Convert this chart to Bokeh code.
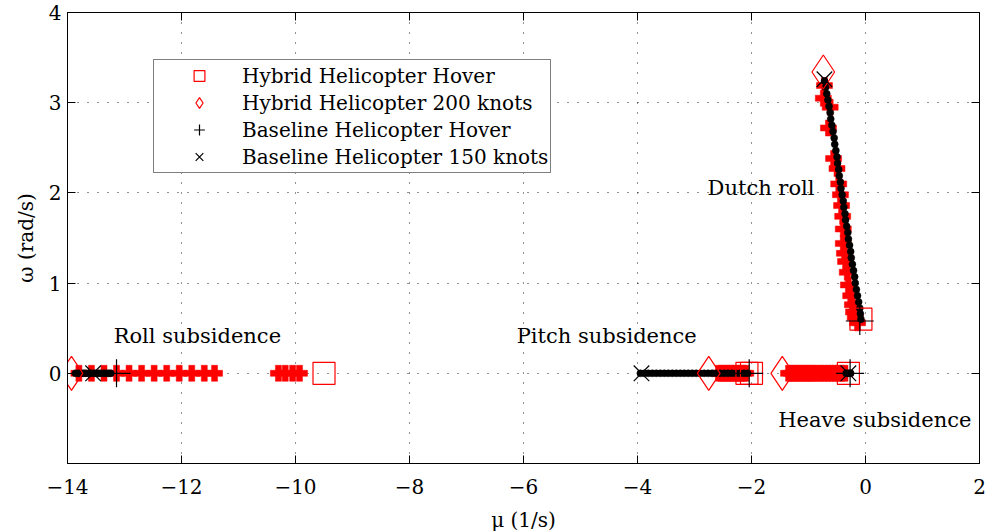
from bokeh.plotting import figure
from bokeh.models import (Legend, LinearAxis, FixedTicker, ColumnDataSource, Range1d,
                          CustomJSTickFormatter)
from bokeh.core.properties import value
from bokeh.embed import file_html
from bokeh.resources import INLINE

# ---------------- data ----------------
# Hybrid helicopter root locus (red thick pluses)
hyb_locus_x = [-13.80, -13.58, -13.36, -13.14, -12.92, -12.70, -12.48, -12.26, -12.04, -11.82, -11.60, -11.42,
               -10.30, -10.18, -10.05, -9.93,
               -2.58, -2.53, -2.48, -2.43, -2.38, -2.33, -2.28, -2.23, -2.18, -2.14, -2.10,
               -1.35, -1.30, -1.25, -1.20, -1.15, -1.10, -1.05, -1.00, -0.95, -0.90, -0.84, -0.78, -0.72,
               -0.66, -0.60, -0.54, -0.48, -0.42, -0.36,
               -0.72, -0.74, -0.62, -0.65, -0.56, -0.50, -0.47, -0.44, -0.42, -0.40, -0.39, -0.39, -0.37,
               -0.35, -0.32, -0.30, -0.26, -0.23, -0.21, -0.18, -0.14]
hyb_locus_y = [0.0] * 46 + [3.19, 3.05, 2.95, 2.72, 2.38, 2.27, 2.10, 1.98, 1.86, 1.74, 1.60, 1.44, 1.33,
                            1.24, 1.12, 0.98, 0.86, 0.76, 0.68, 0.62, 0.56]

# Baseline helicopter root locus (black dots)
base_locus_x = [-13.86, -13.81, -13.77, -13.72, -13.68, -13.63, -13.59, -13.54, -13.50, -13.45, -13.41, -13.36,
                -13.32, -13.28, -13.24,
                -3.95, -3.88, -3.81, -3.74, -3.67, -3.60, -3.53, -3.46, -3.39, -3.32, -3.25, -3.18, -3.11, -3.04,
                -2.97, -2.90, -2.83, -2.76, -2.69, -2.62, -2.55, -2.48, -2.41, -2.34, -2.27, -2.20, -2.13, -2.07,
                -0.34, -0.31, -0.28, -0.26,
                -0.72, -0.70, -0.68, -0.66, -0.64, -0.62, -0.61, -0.59, -0.57, -0.55, -0.54, -0.52, -0.50,
                -0.49, -0.47, -0.46, -0.44, -0.43, -0.41, -0.39, -0.38, -0.36, -0.35, -0.33, -0.31, -0.30,
                -0.28, -0.26, -0.25, -0.23, -0.21, -0.19, -0.18, -0.16, -0.14, -0.12, -0.10, -0.09, -0.08]
base_locus_y = [0.0] * 47 + [3.24, 3.17, 3.10, 3.03, 2.96, 2.89, 2.82, 2.75, 2.68, 2.61, 2.54, 2.47, 2.40,
                             2.33, 2.26, 2.19, 2.12, 2.05, 1.98, 1.91, 1.84, 1.77, 1.70, 1.63, 1.56, 1.49,
                             1.42, 1.35, 1.28, 1.21, 1.14, 1.07, 1.00, 0.93, 0.86, 0.79, 0.72, 0.66, 0.60]

# End points
hyb_hover_x = [-9.50, -2.08, -2.00, -0.30, -0.08]
hyb_hover_y = [0.0, 0.0, 0.0, 0.0, 0.60]
hyb_200_x = [-13.93, -2.75, -1.46, -0.74]
hyb_200_y = [0.0, 0.0, 0.0, 3.34]
base_hover_x = [-13.14, -2.04, -0.27, -0.10]
base_hover_y = [0.0, 0.0, 0.0, 0.58]
base_150_x = [-13.55, -3.93, -0.30, -0.72]
base_150_y = [0.0, 0.0, 0.0, 3.26]

series_names = ["Hybrid Helicopter Hover", "Hybrid Helicopter 200 knots",
                "Baseline Helicopter Hover", "Baseline Helicopter 150 knots"]

mode_labels = ["Roll subsidence", "Pitch subsidence", "Dutch roll", "Heave subsidence"]
mode_label_x = [-13.19, -6.12, -2.77, -1.53]
mode_label_y = [0.41, 0.41, 2.05, -0.52]

x_ticks = [-14, -12, -10, -8, -6, -4, -2, 0, 2]
y_ticks = [0, 1, 2, 3, 4]

FONT = "DejaVu Serif"
FS = "20px"

# ---------------- figure ----------------
p = figure(frame_width=912, frame_height=451, output_backend="svg", toolbar_location=None,
           x_range=Range1d(-14, 2), y_range=Range1d(-1, 4),
           min_border_left=67, min_border_top=12, min_border_right=8, min_border_bottom=0,
           x_axis_label="μ (1/s)", y_axis_label="ω (rad/s)")
p.background_fill_color = "white"
p.border_fill_color = "white"
p.outline_line_color = "black"
p.outline_line_width = 1

for ax in (p.xaxis[0], p.yaxis[0]):
    ax.major_tick_in = 8
    ax.major_tick_out = 0
    ax.minor_tick_line_color = None
    ax.axis_line_color = "black"
    ax.major_tick_line_color = "black"
    ax.major_label_text_font = FONT
    ax.major_label_text_font_size = FS
    ax.major_label_text_color = "black"
    ax.axis_label_text_font = FONT
    ax.axis_label_text_font_size = FS
    ax.axis_label_text_font_style = "normal"
    ax.axis_label_text_color = "black"

p.xaxis[0].ticker = FixedTicker(ticks=x_ticks)
p.yaxis[0].ticker = FixedTicker(ticks=y_ticks)
p.xaxis[0].major_label_standoff = 15
p.xaxis[0].axis_label_standoff = 11
p.yaxis[0].major_label_standoff = 6
p.yaxis[0].axis_label_standoff = 8
p.yaxis[0].major_label_orientation = "horizontal"

blank = CustomJSTickFormatter(code="return ''")
top = LinearAxis(ticker=FixedTicker(ticks=x_ticks), major_tick_in=8, major_tick_out=0,
                 minor_tick_line_color=None, formatter=blank, major_label_standoff=0,
                 major_label_text_font_size="1px")
right = LinearAxis(ticker=FixedTicker(ticks=y_ticks), major_tick_in=8, major_tick_out=0,
                   minor_tick_line_color=None, formatter=blank, major_label_standoff=0,
                   major_label_text_font_size="1px")
p.add_layout(top, "above")
p.add_layout(right, "right")

p.xgrid.ticker = FixedTicker(ticks=x_ticks)
p.ygrid.ticker = FixedTicker(ticks=y_ticks)
for g in (p.xgrid[0], p.ygrid[0]):
    g.grid_line_color = "black"
    g.grid_line_alpha = 0.85
    g.grid_line_dash = "1 9"
    g.grid_line_width = 1

# loci
p.scatter(hyb_locus_x, hyb_locus_y, marker="plus", size=16, fill_color="#ff0000",
          line_color="#ff0000", line_width=0.5)
p.scatter(base_locus_x, base_locus_y, marker="circle", size=7, fill_color="black",
          line_color="black", line_width=0.5)

# end points
r_sq = p.scatter(hyb_hover_x, hyb_hover_y, marker="square", size=22, fill_color=None,
                 line_color="#ff0000", line_width=1.2)
r_di = p.scatter(hyb_200_x, hyb_200_y, marker="diamond", size=34, fill_color=None,
                 line_color="#ff0000", line_width=1.2)
r_cr = p.scatter(base_hover_x, base_hover_y, marker="cross", size=28, fill_color=None,
                 line_color="black", line_width=1.2)
r_x = p.scatter(base_150_x, base_150_y, marker="x", size=22, fill_color=None,
                line_color="black", line_width=1.2)

# mode labels
src = ColumnDataSource(dict(x=mode_label_x, y=mode_label_y, t=mode_labels))
p.text(x="x", y="y", text="t", source=src, text_font=value(FONT), text_font_size="21px",
       text_baseline="middle", text_align="left", text_color="black")

legend = Legend(items=[(series_names[0], [r_sq]), (series_names[1], [r_di]),
                       (series_names[2], [r_cr]), (series_names[3], [r_x])],
                location=(86, 290))
legend.label_text_font = FONT
legend.label_text_font_size = FS
legend.label_text_color = "black"
legend.glyph_width = 86
legend.glyph_height = 27
legend.label_height = 27
legend.spacing = 0
legend.padding = 2
legend.margin = 0
legend.label_standoff = 0
legend.border_line_color = "black"
legend.border_line_width = 1
legend.background_fill_alpha = 1
p.add_layout(legend, "center")

open("out.html", "w").write(file_html(p, INLINE))
